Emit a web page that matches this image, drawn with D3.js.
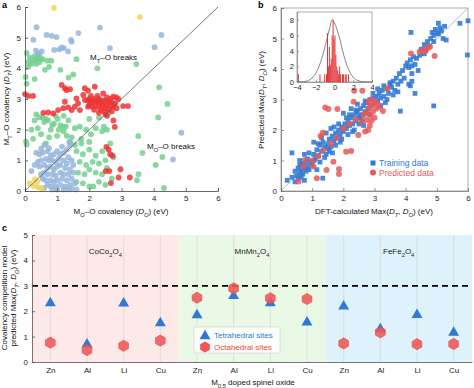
<!DOCTYPE html>
<html><head><meta charset="utf-8">
<script src="https://cdn.jsdelivr.net/npm/d3@7"></script>
<style>body{margin:0;background:#fff}svg{display:block;font-family:"Liberation Sans",Arial,Helvetica,sans-serif}</style>
</head><body><svg id="chart" width="474" height="388"></svg>
<script>
// ---------- Panel a data: [D_O, D_T] ----------
const aTicks = [0,1,2,3,4,5,6];
const aYellow = [[0.9,5.97],[3.57,5.67],[0.3,0.38],[0.42,0.12],[0.52,0.08],[0.28,0.16],[0.15,0.25],[0.38,0.3]];
const aBlue = [[0.36,5.34],[0.26,4.93],[0.67,5.09],[0.83,5.06],[0.98,5.02],[1.43,4.93],[1.45,4.87],[1.66,5.15],[2.33,5.33],
 [0.91,4.6],[1.07,4.62],[1.21,4.66],[1.14,4.68],[1.34,4.55],[0.34,4.58],[0.41,4.49],[0.52,4.55],[2.64,4.66],[4.03,4.69],[4.24,5.09],[4.86,1.9],[4.6,1.03],
 [0.35,1.25],[0.45,1.2],[0.55,1.25],[0.7,1.3],[0.8,1.15],[0.9,1.2],[1.0,1.3],[1.1,1.2],[1.2,1.25],[1.3,1.35],[1.4,1.5],[1.35,1.1],[1.45,1.0],[1.5,0.85],
 [1.3,0.9],[1.2,1.0],[1.05,1.05],[0.95,0.95],[0.85,1.0],[0.75,1.0],[0.65,1.05],[0.5,1.0],[0.4,0.95],[0.3,0.85],[0.45,0.8],[0.6,0.85],[0.7,0.75],[0.8,0.8],
 [0.9,0.7],[1.0,0.8],[1.1,0.85],[1.25,0.75],[1.4,0.7],[1.5,0.6],[1.35,0.55],[1.2,0.55],[1.1,0.6],[0.95,0.5],[0.85,0.55],[0.7,0.55],[0.6,0.6],[0.5,0.55],
 [0.55,0.4],[0.65,0.35],[0.8,0.35],[0.9,0.3],[1.0,0.35],[1.15,0.4],[1.3,0.35],[1.45,0.4],[1.4,0.2],[1.25,0.15],[1.1,0.2],[0.95,0.15],[0.8,0.15],[0.7,0.2],
 [0.6,0.1],[1.0,0.05],[1.2,0.05],[1.45,0.08],[1.55,0.25],[0.75,1.4],[1.15,1.45],[0.6,1.5],[1.35,0.05],[0.85,0.05],[0.2,0.65],[1.6,0.05],[0.5,1.38],[1.38,1.6]];
const aGreen = [[0.05,4.5],[0.1,4.2],[0.15,4.35],[0.25,4.25],[0.3,4.4],[0.35,4.3],[0.4,4.35],[0.45,4.45],[0.5,4.3],[0.2,4.15],[0.1,4.05],[0.35,4.15],
 [0.45,4.2],[0.55,4.3],[0.02,3.72],[0.05,3.5],[0.3,3.65],[0.7,4.25],[0.82,4.25],[0.75,4.05],[1.1,3.95],[1.35,3.7],[1.6,4.3],[1.5,3.8],[2.25,4.0],[0.62,3.95],
 [3.46,4.14],[4.17,3.38],[4.43,2.84],[4.14,2.4],[3.52,1.79],[3.65,1.24],[4.27,1.11],[4.06,0.85],[3.53,0.55],[3.48,0.35],[4.32,0.1],
 [0.03,1.62],[0.05,1.52],[0.25,1.7],[0.4,2.05],[0.5,1.85],[0.55,2.4],[0.6,2.25],[0.65,2.35],[0.72,2.3],[0.8,2.0],[0.85,2.15],[0.9,2.2],[0.95,2.45],[1.02,2.35],
 [1.05,2.0],[1.1,2.15],[1.17,2.1],[1.2,1.95],[1.27,2.1],[1.3,1.8],[1.35,2.3],[1.4,1.6],[1.45,1.75],[1.55,2.05],[1.7,2.1],[1.75,1.7],[1.9,2.0],[2.0,2.35],
 [2.05,1.85],[2.2,2.05],[2.3,2.4],[2.45,2.1],[2.4,1.95],[2.0,1.6],[1.75,1.55],[0.35,2.5],[0.45,2.4],[0.75,1.75],[0.65,1.55],[1.0,1.8],[0.3,2.3],[2.6,2.55],[2.55,2.0],
 [1.6,1.3],[1.8,1.2],[2.0,1.35],[2.2,1.15],[2.4,1.3],[1.7,0.95],[1.9,0.85],[2.1,0.95],[2.3,0.9],[2.5,1.0],[1.65,0.6],[1.85,0.55],[2.0,0.7],[2.2,0.6],
 [2.4,0.55],[2.55,0.75],[1.6,0.3],[1.8,0.25],[2.0,0.15],[2.12,0.15],[2.3,0.3],[2.5,0.2],[2.7,0.4],[2.65,1.55],[1.55,1.5],[2.75,1.1],[1.2,2.45],[0.2,2.0]];
const aRed = [[0.0,3.16],[0.1,3.1],[0.25,3.1],[1.14,3.46],[1.24,3.35],[1.29,3.29],[1.4,3.32],[1.86,3.35],[1.96,3.27],[2.17,3.4],[1.81,3.13],[2.43,3.18],
 [2.74,3.08],[2.84,3.05],[0.57,2.55],[0.72,2.56],[0.88,2.53],[1.03,2.64],[1.19,2.7],[1.34,2.73],[1.45,2.64],[1.55,2.75],[1.71,2.64],[1.65,2.86],[1.86,2.97],
 [1.6,3.02],[1.24,2.91],[1.96,2.75],[1.95,2.95],[2.0,3.0],[2.05,2.9],[2.1,2.95],[2.15,3.0],[2.2,2.9],[2.25,2.95],[2.3,3.0],[2.35,2.9],[2.4,2.95],[2.45,2.85],
 [2.5,2.95],[2.55,2.8],[2.6,2.9],[2.65,2.8],[2.7,2.9],[2.75,2.75],[2.8,2.85],[2.85,2.7],[2.0,2.8],[2.1,2.75],[2.2,2.8],[2.3,2.75],[2.4,2.8],[2.5,2.7],
 [2.6,2.65],[2.7,2.6],[2.15,2.65],[2.35,2.65],[2.45,2.6],[2.25,3.1],[2.05,3.1],[2.55,3.05],[2.9,3.0],[2.65,3.0],[2.3,2.55],[2.55,2.45],[2.75,2.3],
 [3.05,2.77],[3.2,2.77],[2.5,2.5],[2.79,2.09],[2.53,1.44],[2.6,1.35],[2.65,1.2],[2.72,1.15],[2.51,0.65],[2.62,0.65],[2.97,0.71],[3.26,0.44],[2.91,0.44],[2.67,0.26]];

// ---------- Panel b data: [DFT, predicted] ----------
const bTicks = [0,1,2,3,4,5,6];
const bTraining = [[0.2,0.35],[0.35,0.45],[0.45,0.3],[0.5,0.5],[0.55,0.4],[0.6,0.6],[0.65,0.7],[0.6,0.85],[0.7,0.55],[0.7,0.9],[0.75,0.75],[0.8,0.65],
 [0.8,0.95],[0.85,0.8],[0.9,0.7],[0.95,0.95],[0.6,1.0],[0.55,0.75],[0.45,0.65],[0.65,0.45],[0.75,0.35],[0.85,1.05],[1.0,0.85],[1.05,1.0],[0.35,1.25],
 [0.9,1.25],[0.75,1.2],[1.34,0.42],[1.05,1.2],[1.1,1.05],[1.15,1.35],[1.2,1.15],[1.25,1.5],[1.3,1.3],[1.35,1.6],[1.4,1.45],[1.45,1.2],[1.5,1.55],
 [1.55,1.7],[1.6,1.45],[1.65,1.8],[1.7,1.65],[1.75,1.9],[1.8,1.75],[1.85,2.0],[1.9,1.85],[1.95,2.1],[2.0,1.95],[1.3,1.75],[1.45,1.9],[1.6,2.05],[1.7,2.1],
 [1.2,1.55],[1.4,1.1],[1.55,1.3],[1.75,1.5],[1.9,1.6],[1.25,0.95],[1.15,0.7],[1.05,1.6],[1.5,1.4],[1.85,2.2],[1.95,1.7],[1.65,1.25],
 [2.05,2.2],[2.1,2.05],[2.15,2.3],[2.2,2.15],[2.25,2.4],[2.3,2.2],[2.35,2.5],[2.4,2.3],[2.45,2.6],[2.5,2.45],[2.55,2.7],[2.6,2.5],[2.65,2.8],[2.7,2.6],
 [2.75,2.9],[2.8,2.7],[2.85,3.0],[2.9,2.8],[2.95,3.05],[3.0,2.9],[2.2,2.5],[2.4,2.65],[2.6,2.3],[2.7,2.95],[2.1,2.4],[2.3,1.95],[2.5,2.2],[2.85,2.5],
 [2.95,3.2],[2.45,2.85],[2.15,1.85],[2.35,2.0],[2.55,2.4],[2.65,2.15],[2.0,2.55],[2.25,2.7],[2.75,2.55],
 [3.05,3.1],[3.1,2.95],[3.15,3.2],[3.2,3.05],[3.25,3.3],[3.3,3.1],[3.4,3.35],[3.45,3.2],[3.5,3.5],[3.55,3.4],[3.6,3.6],[3.65,3.3],[3.7,3.7],[3.75,3.5],
 [3.8,3.85],[3.85,3.6],[3.9,3.95],[3.95,3.7],[3.1,3.35],[3.3,3.45],[3.5,3.55],[3.35,2.9],[3.6,3.15],[3.2,2.8],[3.75,3.25],[3.4,3.0],
 [4.0,4.1],[4.05,4.2],[4.1,4.05],[4.15,4.3],[4.2,4.1],[4.25,4.4],[4.3,4.15],[4.35,4.35],[4.1,3.5],[4.2,3.6],[4.15,3.45],[4.4,3.95],[4.3,3.2],[4.5,4.65],
 [4.55,4.55],[4.6,4.8],[4.65,4.6],[4.7,4.9],[4.75,4.75],[4.8,5.0],[4.9,5.1],[4.95,5.3],[5.0,5.2],[5.05,5.15],[5.1,5.35],[5.15,5.25],[5.2,5.0],[5.05,5.5],
 [5.25,5.4],[4.6,4.5],[4.45,4.45],[4.2,3.85],[5.3,4.95],[4.85,5.2],[4.9,4.9],[4.17,5.2],[5.74,5.5],[6.0,5.58],[5.98,4.46],[4.9,2.79],[3.83,2.62]];
const bPredicted = [[0.56,0.31],[0.77,1.02],[1.04,0.8],[1.15,0.42],[1.46,0.69],[1.86,0.56],[1.68,0.96],[1.86,0.72],[1.36,1.34],[2.09,1.29],[2.25,1.31],
 [1.34,1.91],[1.27,1.8],[1.42,2.74],[1.52,2.69],[1.81,2.69],[2.35,3.29],[2.61,3.29],[2.33,2.93],[2.48,1.84],[2.59,2.27],[2.75,2.33],[2.85,2.49],
 [2.65,2.49],[2.7,1.95],[2.8,2.9],[2.9,3.0],[2.95,2.85],[3.0,2.95],[2.85,2.75],[2.75,2.6],[2.95,2.6],[3.0,2.4],[2.9,2.3],[2.85,2.15],[2.8,2.0],
 [3.05,2.7],[3.1,2.85],[3.15,2.75],[3.27,2.62],[1.0,1.0],[1.2,1.15],[1.6,1.55],[1.8,1.75],[2.0,2.05],[2.2,2.2],[2.4,2.35],[3.42,3.37],
 [4.17,4.51],[4.45,4.57],[4.58,4.57],[4.62,4.62],[4.67,4.66],[4.72,4.7],[4.78,4.73],[4.93,4.43],[0.72,0.8]];
// inset histogram of errors
const histX = [-3.85,-1.55,-1.05,-0.85,-0.75,-0.65,-0.55,-0.45,-0.35,-0.25,-0.15,-0.05,0.05,0.15,0.25,0.35,0.45,0.55,0.65,0.85,0.95,1.15,1.25,1.5];
const histY = [1,1,1,1,6.3,2,4.5,2.2,3,6,8,5.5,6,3.5,2,1.5,1,2,1,1,1,1,1,1];
const curveX = [-4,-3.5,-3,-2.5,-2,-1.5,-1,-0.5,-0.25,0,0.5,1,1.5,2,2.5,3,3.5,4];
const curveY = [0,0.02,0.1,0.4,1.1,2.5,4.6,7.0,8.0,7.6,5.8,3.4,1.6,0.6,0.17,0.04,0,0];
const insetXTicks = [-4,-2,0,2,4];
const insetYTicks = [0,2,4,6,8];

// ---------- Panel c data ----------
const cGroups = ["CoCo₂O₄","MnMn₂O₄","FeFe₂O₄"];
const cDopants = ["Zn","Al","Li","Cu"];
const cTetra = [2.35,0.73,2.34,1.56, 1.88,2.64,2.35,1.59, 2.22,1.33,1.89,1.19];
const cOcta  = [0.76,0.47,0.64,0.84, 2.53,2.9,2.51,2.48, 0.73,1.17,0.70,0.71];
const cYTicks = [0,1,2,3,4,5];
const cThreshold = 3;

// ---------- helpers ----------
const svg = d3.select("#chart");
const FS = 8;
const fmt = d3.format("d");
function rich(sel, parts){
  parts.forEach(p=>{
    const ts = sel.append("tspan").text(p[0]);
    if(p[1]) ts.attr("baseline-shift","sub").attr("font-size","72%");
    if(p[2]) ts.attr("font-style","italic");
  });
  return sel;
}
function styleAxis(g, color="#444"){
  g.select(".domain").attr("stroke",color).attr("stroke-width",0.8);
  g.selectAll(".tick line").attr("stroke",color).attr("stroke-width",0.8);
  g.selectAll(".tick text").attr("fill","#222").attr("font-size",FS).attr("font-family",'"Liberation Sans",Arial,sans-serif');
}

// ================= Panel a =================
const xA = d3.scaleLinear([0,6],[25,218]);
const yA = d3.scaleLinear([0,6],[191,7]);
const gA = svg.append("g");
const ptsA = gA.append("g");
const drawA = (arr,color)=>ptsA.selectAll(null).data(arr).join("circle")
  .attr("cx",d=>xA(d[0])).attr("cy",d=>yA(d[1])).attr("r",2.9).attr("fill",color).attr("fill-opacity",0.85);
drawA(aGreen,"#74cf8e");
drawA(aBlue,"#97b5dc");
drawA(aRed,"#ef3434");
drawA(aYellow,"#f2d35a");
gA.append("line").attr("x1",xA(0)).attr("y1",yA(0)).attr("x2",xA(6)).attr("y2",yA(6)).attr("stroke","#555").attr("stroke-width",0.8);
gA.append("g").attr("transform",`translate(0,${yA(0)})`).call(d3.axisBottom(xA).tickValues(aTicks).tickFormat(fmt).tickSize(-3).tickPadding(4)).call(styleAxis);
gA.append("g").attr("transform",`translate(${xA(0)},0)`).call(d3.axisLeft(yA).tickValues(aTicks).tickFormat(fmt).tickSize(-3).tickPadding(4)).call(styleAxis);
rich(gA.append("text").attr("x",90).attr("y",60).attr("font-size",FS).attr("fill","#111"),[["M"],["T",1],["–O breaks"]]);
rich(gA.append("text").attr("x",147).attr("y",149).attr("font-size",FS).attr("fill","#111"),[["M"],["O",1],["–O breaks"]]);
rich(gA.append("text").attr("x",121).attr("y",214).attr("text-anchor","middle").attr("font-size",FS).attr("fill","#111"),
  [["M"],["O",1],["–O covalency ("],["D",0,1],["O",1,1],[") (eV)"]]);
rich(gA.append("text").attr("transform","translate(9,99) rotate(-90)").attr("text-anchor","middle").attr("font-size",FS).attr("fill","#111"),
  [["M"],["T",1],["–O covalency ("],["D",0,1],["T",1,1],[") (eV)"]]);
svg.append("text").attr("x",2).attr("y",8).attr("font-size",9).attr("font-weight","bold").text("a");

// ================= Panel b =================
const xB = d3.scaleLinear([0,6],[281,468]);
const yB = d3.scaleLinear([0,6],[191,8]);
const gB = svg.append("g");
gB.append("rect").attr("x",xB(0)).attr("y",yB(6)).attr("width",xB(6)-xB(0)).attr("height",yB(0)-yB(6)).attr("fill","none").attr("stroke","#999").attr("stroke-width",0.8);
gB.append("line").attr("x1",xB(0)).attr("y1",yB(0)).attr("x2",xB(6)).attr("y2",yB(6)).attr("stroke","#aaa").attr("stroke-width",0.8);
gB.append("g").selectAll(null).data(bTraining).join("rect")
  .attr("x",d=>xB(d[0])-2.4).attr("y",d=>yB(d[1])-2.4).attr("width",4.8).attr("height",4.8).attr("fill","#2f78d4").attr("fill-opacity",0.88);
gB.append("g").selectAll(null).data(bPredicted).join("circle")
  .attr("cx",d=>xB(d[0])).attr("cy",d=>yB(d[1])).attr("r",3).attr("fill","#e8585b").attr("fill-opacity",0.85);
gB.append("g").attr("transform",`translate(0,${yB(0)})`).call(d3.axisBottom(xB).tickValues(bTicks).tickFormat(fmt).tickSize(-3).tickPadding(4)).call(styleAxis,"#777");
gB.append("g").attr("transform",`translate(${xB(0)},0)`).call(d3.axisLeft(yB).tickValues(bTicks).tickFormat(fmt).tickSize(-3).tickPadding(4)).call(styleAxis,"#777");
rich(gB.append("text").attr("x",374).attr("y",214).attr("text-anchor","middle").attr("font-size",FS).attr("fill","#111"),
  [["DFT-calculated Max("],["D",0,1],["T",1,1],[", "],["D",0,1],["O",1,1],[") (eV)"]]);
rich(gB.append("text").attr("transform","translate(264,100) rotate(-90)").attr("text-anchor","middle").attr("font-size",FS).attr("fill","#111"),
  [["Predicted Max("],["D",0,1],["T",1,1],[", "],["D",0,1],["O",1,1],[") (eV)"]]);
svg.append("text").attr("x",258).attr("y",8).attr("font-size",9).attr("font-weight","bold").text("b");
// legend b
gB.append("rect").attr("x",370.5).attr("y",160.5).attr("width",5).attr("height",5).attr("fill","#2f78d4");
gB.append("text").attr("x",379).attr("y",165.5).attr("font-size",FS+0.5).attr("fill","#2f78d4").text("Training data");
gB.append("circle").attr("cx",373).attr("cy",172.5).attr("r",3).attr("fill","#e8585b");
gB.append("text").attr("x",379).attr("y",175.5).attr("font-size",FS+0.5).attr("fill","#e8585b").text("Predicted data");
// inset
const xI = d3.scaleLinear([-4,4],[297,372]);
const yI = d3.scaleLinear([0,9],[82,12]);
const gI = svg.append("g");
gI.append("rect").attr("x",xI(-4)).attr("y",yI(9)).attr("width",xI(4)-xI(-4)).attr("height",yI(0)-yI(9)).attr("fill","#fff").attr("stroke","#999").attr("stroke-width",0.8);
gI.append("g").selectAll(null).data(histX.map((x,i)=>[x,histY[i]])).join("rect")
  .attr("x",d=>xI(d[0]-0.05)).attr("y",d=>yI(d[1])).attr("width",d=>xI(0.05)-xI(-0.05)).attr("height",d=>yI(0)-yI(d[1])).attr("fill","#e32a2a");
gI.append("path").datum(curveX.map((x,i)=>[x,curveY[i]]))
  .attr("d",d3.line().x(d=>xI(d[0])).y(d=>yI(d[1])).curve(d3.curveMonotoneX)).attr("fill","none").attr("stroke","#666").attr("stroke-width",0.8);
gI.append("g").attr("transform",`translate(0,${yI(0)})`).call(d3.axisBottom(xI).tickValues(insetXTicks).tickFormat(fmt).tickSize(-2).tickPadding(3)).call(styleAxis,"#888")
  .selectAll(".tick text").attr("font-size",7.5);
gI.append("g").attr("transform",`translate(${xI(-4)},0)`).call(d3.axisLeft(yI).tickValues(insetYTicks).tickFormat(fmt).tickSize(-2).tickPadding(3)).call(styleAxis,"#888")
  .selectAll(".tick text").attr("font-size",7.5);

// ================= Panel c =================
const cCats = [];
cGroups.forEach((g,gi)=>cDopants.forEach(d=>cCats.push(gi+"|"+d)));
const xC = d3.scalePoint(cCats,[32,472]).padding(0.5);
const yC = d3.scaleLinear([0,5],[362,235]);
const gC = svg.append("g");
const bgCol = ["#fde9e7","#eaf9e5","#ddf2fb"];
const step = xC.step();
cGroups.forEach((g,gi)=>{
  const x0 = gi===0 ? 32 : xC(gi+"|"+cDopants[0]) - step/2;
  const x1 = gi===2 ? 472 : xC(gi+"|"+cDopants[3]) + step/2;
  gC.append("rect").attr("x",x0).attr("y",yC(5)).attr("width",x1-x0).attr("height",yC(0)-yC(5)).attr("fill",bgCol[gi]);
  const xm = (xC(gi+"|"+cDopants[1])+xC(gi+"|"+cDopants[2]))/2;
  gC.append("text").attr("x",xm).attr("y",254).attr("text-anchor","middle").attr("font-size",FS).attr("fill","#222")
    .call(s=>rich(s,[[g.replace("₂O₄","")],["2",1],["O"],["4",1]]));
});
gC.append("g").selectAll(null).data(cCats).join("line")
  .attr("x1",d=>xC(d)).attr("x2",d=>xC(d)).attr("y1",yC(5)).attr("y2",yC(0)).attr("stroke","#d4d4d4").attr("stroke-width",0.7);
gC.append("line").attr("x1",32).attr("x2",472).attr("y1",yC(cThreshold)).attr("y2",yC(cThreshold))
  .attr("stroke","#000").attr("stroke-width",1.8).attr("stroke-dasharray","6,4");
const tri = d3.symbol().type(d3.symbolTriangle).size(52);
gC.append("g").selectAll(null).data(cCats).join("path").attr("d",tri)
  .attr("transform",(d,i)=>`translate(${xC(d)},${yC(cTetra[i])+0.8})`).attr("fill","#2f78d4");
function hexPath(r){ return d3.line()(d3.range(6).map(k=>[r*Math.cos(Math.PI/6+k*Math.PI/3), r*Math.sin(Math.PI/6+k*Math.PI/3)]))+"Z"; }
gC.append("g").selectAll(null).data(cCats).join("path").attr("d",hexPath(5.6))
  .attr("transform",(d,i)=>`translate(${xC(d)},${yC(cOcta[i])})`).attr("fill","#ef5656").attr("fill-opacity",0.88).attr("stroke","#e84545").attr("stroke-width",0.6);
gC.append("g").attr("transform",`translate(0,${yC(0)})`).call(d3.axisBottom(xC).tickFormat(d=>d.split("|")[1]).tickSize(0).tickPadding(5)).call(styleAxis,"#555");
gC.append("g").attr("transform",`translate(32,0)`).call(d3.axisLeft(yC).tickValues(cYTicks).tickFormat(fmt).tickSize(-3).tickPadding(4)).call(styleAxis,"#555");
// legend c
gC.append("rect").attr("x",194).attr("y",327).attr("width",86).attr("height",26).attr("fill","#fff").attr("fill-opacity",0.85).attr("stroke","#ccc").attr("stroke-width",0.6);
gC.append("path").attr("d",tri).attr("transform","translate(205,336)").attr("fill","#2f78d4");
gC.append("text").attr("x",214).attr("y",338).attr("font-size",FS).attr("fill","#2f78d4").text("Tetrahedral sites");
gC.append("path").attr("d",hexPath(5.6)).attr("transform","translate(205,347)").attr("fill","#ef5656");
gC.append("text").attr("x",214).attr("y",350).attr("font-size",FS).attr("fill","#e8474a").text("Octahedral sites");
// titles c
gC.append("text").attr("transform","translate(7,298) rotate(-90)").attr("text-anchor","middle").attr("font-size",FS).attr("fill","#111").text("Covalency competition model");
rich(gC.append("text").attr("transform","translate(16,298) rotate(-90)").attr("text-anchor","middle").attr("font-size",FS).attr("fill","#111"),
  [["predicted Max("],["D",0,1],["T",1,1],[", "],["D",0,1],["O",1,1],[") (eV)"]]);
rich(gC.append("text").attr("x",253).attr("y",385).attr("text-anchor","middle").attr("font-size",FS).attr("fill","#111"),
  [["M"],["0.5",1],[" doped spinel oxide"]]);
svg.append("text").attr("x",2).attr("y",231).attr("font-size",9).attr("font-weight","bold").text("c");
</script></body></html>
